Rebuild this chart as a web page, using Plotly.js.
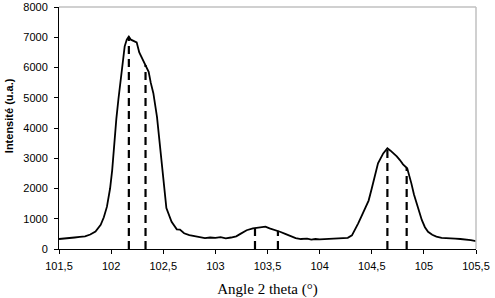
<!DOCTYPE html>
<html><head><meta charset="utf-8">
<script src="https://cdn.plot.ly/plotly-3.0.1.min.js"></script>
<style>html,body{margin:0;padding:0;background:#fff}#chart{width:495px;height:298px}</style>
</head><body><div id="chart"></div>
<script>
const angle = [101.50,101.55,101.60,101.65,101.70,101.75,101.80,101.85,101.90,101.93,101.96,101.99,102.01,102.03,102.05,102.07,102.09,102.11,102.13,102.15,102.17,102.19,102.21,102.245,102.27,102.30,102.33,102.36,102.38,102.405,102.44,102.47,102.50,102.53,102.58,102.63,102.66,102.70,102.75,102.80,102.85,102.90,102.95,103.00,103.05,103.10,103.15,103.20,103.24,103.30,103.36,103.42,103.48,103.52,103.56,103.62,103.67,103.72,103.77,103.82,103.88,103.92,103.96,104.00,104.10,104.20,104.27,104.31,104.34,104.37,104.40,104.44,104.47,104.50,104.52,104.56,104.61,104.65,104.68,104.71,104.74,104.77,104.80,104.84,104.86,104.88,104.905,104.93,104.96,104.98,105.01,105.04,105.08,105.12,105.17,105.22,105.30,105.35,105.41,105.45,105.50];
const intensity = [330,340,370,380,400,420,480,580,800,1050,1400,2000,2600,3500,4300,4950,5600,6200,6700,6920,7020,6920,6880,6830,6500,6300,6080,5860,5500,5150,4370,3340,2500,1350,900,650,640,520,460,420,390,360,380,370,390,350,380,420,500,620,680,700,740,680,640,570,500,430,360,330,340,310,330,320,330,340,370,450,630,850,1070,1350,1600,2000,2300,2830,3160,3330,3250,3160,3060,2940,2800,2670,2450,2170,1800,1500,1150,960,720,570,470,410,370,350,340,330,320,290,260];
const peakX = [102.17, 102.33, 103.38, 103.60, 104.65, 104.835];
const peakY = [7020, 6080, 690, 600, 3330, 2680];
const xTicks = [101.5,102,102.5,103,103.5,104,104.5,105,105.5];
const xTickText = ['101,5','102','102,5','103','103,5','104','104,5','105','105,5'];
const yTicks = [0,1000,2000,3000,4000,5000,6000,7000,8000];

const traces = [];
peakX.forEach((px,i)=>{
  traces.push({x:[px,px], y:[0,peakY[i]], mode:'lines', line:{color:'#000', width:2.2, dash:'8px,5px'}, hoverinfo:'skip', showlegend:false});
});
traces.push({x:angle, y:intensity, mode:'lines', line:{color:'#000', width:1.8}, showlegend:false});

const layout = {
  width:495, height:298,
  margin:{l:59, r:19, t:7, b:49},
  paper_bgcolor:'#fff', plot_bgcolor:'#fff',
  showlegend:false,
  xaxis:{range:[101.5,105.5], tickvals:xTicks, ticktext:xTickText, ticks:'outside', ticklen:4, tickcolor:'#000',
    ticklabelstandoff:3,
    showline:true, linecolor:'#000', linewidth:1, showgrid:false, zeroline:false,
    tickfont:{family:'Liberation Sans, Arial', size:11, color:'#000'},
    title:{text:'Angle 2 theta (°)', font:{family:'Liberation Serif, Times New Roman', size:15, color:'#000'}, standoff:13}},
  yaxis:{range:[0,8000], tickvals:yTicks, ticks:'outside', ticklen:4, tickcolor:'#000',
    ticklabelstandoff:4,
    showline:true, linecolor:'#000', linewidth:1, showgrid:false, zeroline:false,
    tickfont:{family:'Liberation Sans, Arial', size:11, color:'#000'}},
  annotations:[
    {text:'<b>Intensité (u.a.)</b>', xref:'paper', yref:'paper', x:-59/417+8.5/417, y:0.551, xanchor:'center', yanchor:'middle',
     textangle:-90, showarrow:false, font:{family:'Liberation Sans, Arial', size:11, color:'#000'}}
  ],
  shapes:[
    {type:'line', xref:'paper', yref:'paper', x0:0, x1:1, y0:1, y1:1, line:{color:'#c0c0c0', width:1.5}},
    {type:'line', xref:'paper', yref:'paper', x0:1, x1:1, y0:0, y1:1, line:{color:'#c0c0c0', width:1.5}}
  ]
};
Plotly.newPlot('chart', traces, layout, {displayModeBar:false, staticPlot:true});
</script></body></html>
